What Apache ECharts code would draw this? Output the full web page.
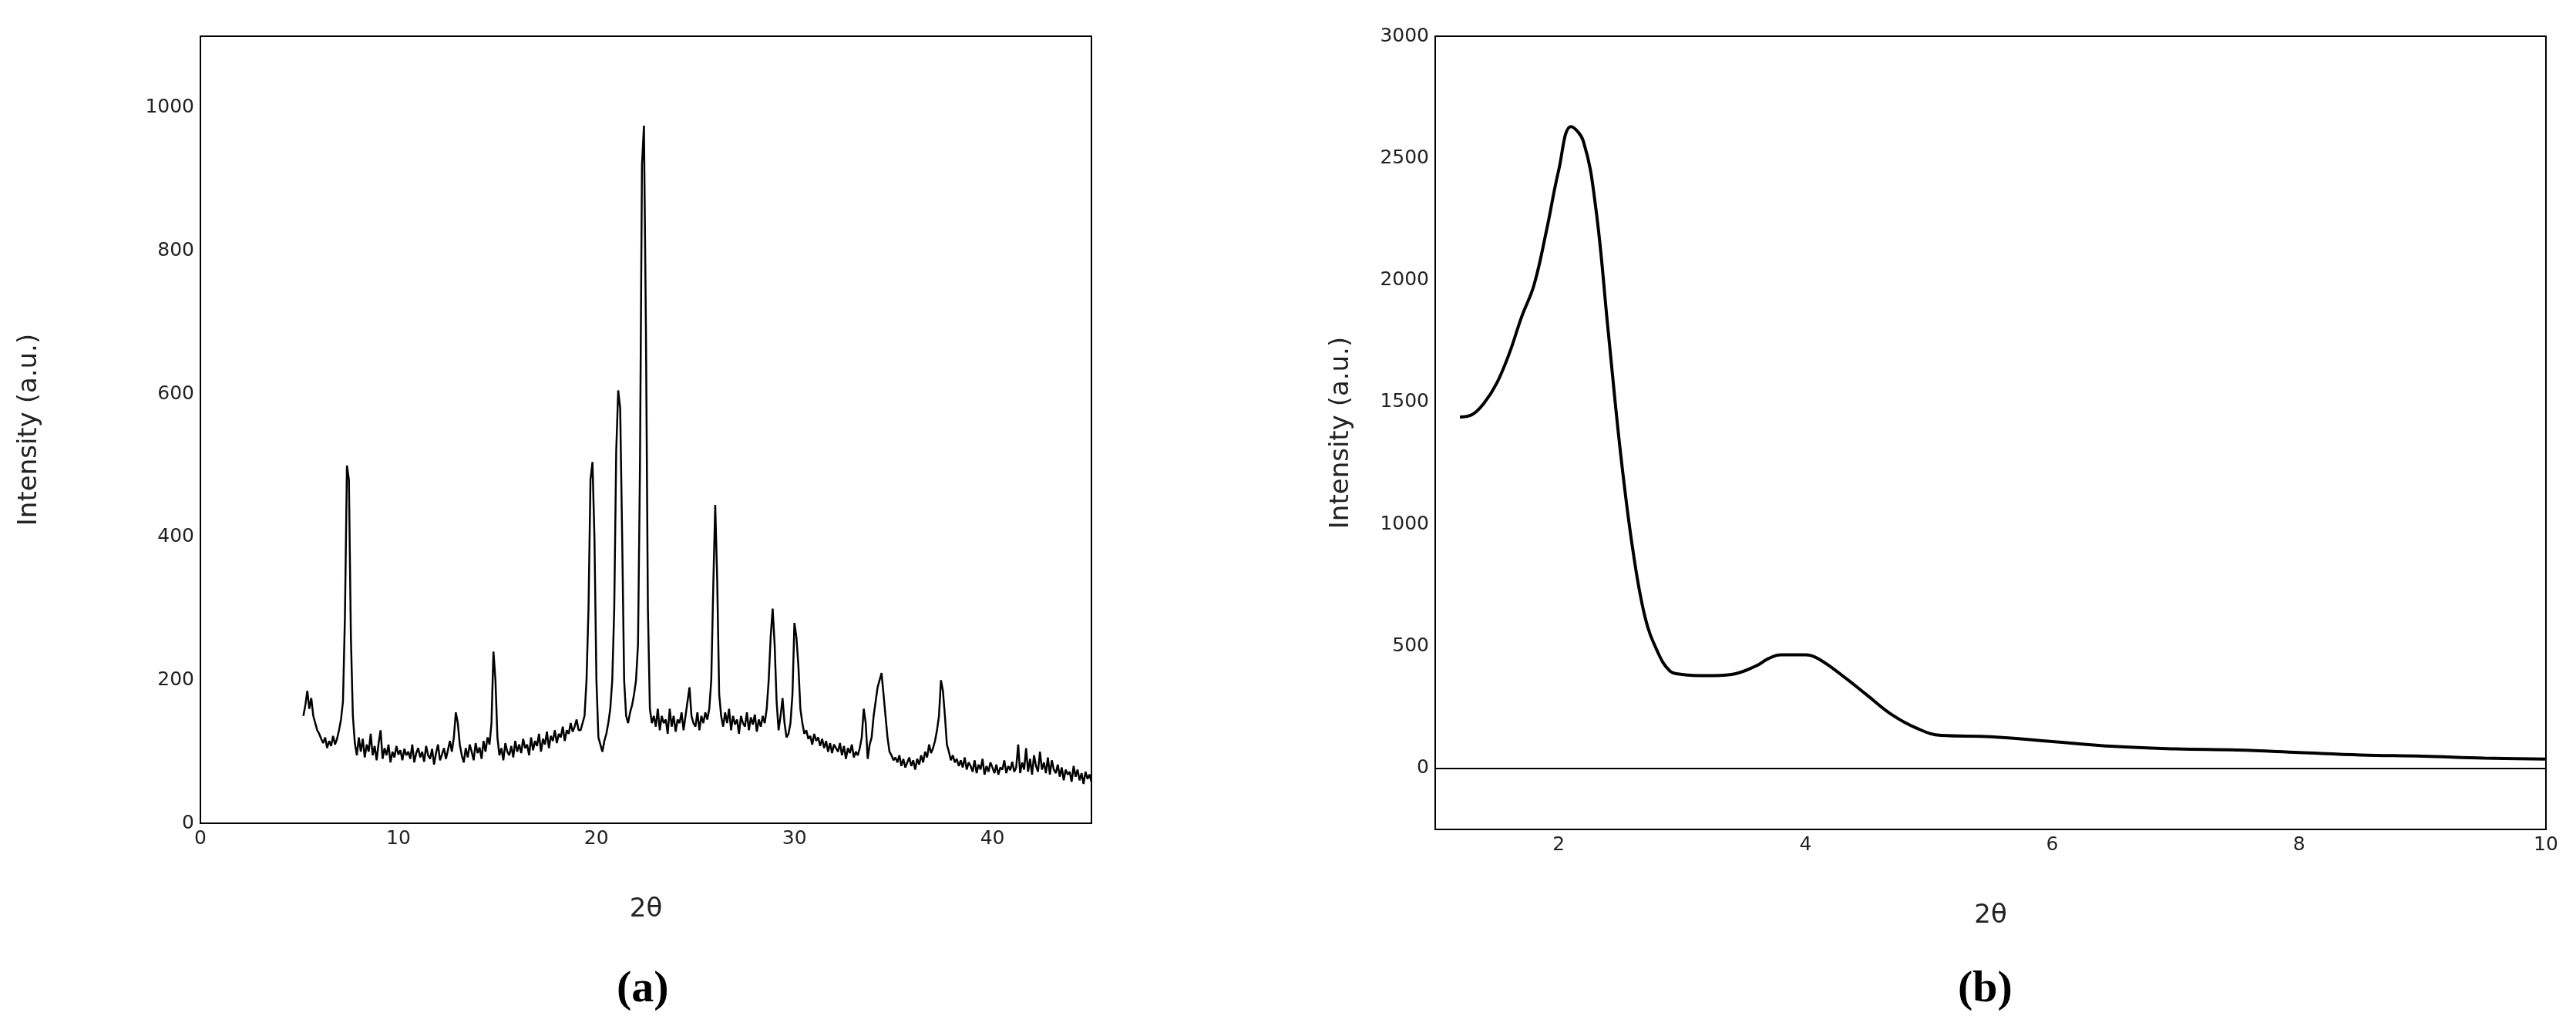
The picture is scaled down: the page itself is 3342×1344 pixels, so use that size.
<!DOCTYPE html>
<html>
<head>
<meta charset="utf-8">
<script src="https://cdn.jsdelivr.net/npm/echarts@6/dist/echarts.min.js"></script>
<style>
  html, body { margin: 0; padding: 0; background: #fff; }
  #chart { width: 3342px; height: 1344px; }
</style>
</head>
<body>
<div id="chart"></div>
<script>
// (a) XRD pattern, sampled every 0.1 deg from 5.2
var aStart = 5.2, aStep = 0.1;
var aIntensity = [
  150,165,185,160,175,150,140,130,125,118,
  112,120,105,115,108,122,110,118,130,145,
  170,290,500,480,260,150,112,95,120,100,
  118,92,110,100,125,95,108,88,112,130,
  90,105,95,110,85,100,92,108,96,102,
  88,104,95,100,90,110,85,98,105,92,
  100,86,108,95,90,104,82,98,110,88,
  96,105,90,102,115,100,120,155,140,110,
  95,85,105,92,110,100,88,112,98,106,
  90,115,100,120,110,140,240,200,120,95,
  105,88,112,100,95,108,92,115,100,110,
  98,118,105,110,95,120,102,115,108,125,
  100,118,110,128,105,122,115,130,112,125,
  120,135,115,130,125,140,128,135,145,130,
  130,140,150,200,300,480,505,400,200,120,
  110,100,115,125,140,160,200,300,520,605,
  580,400,200,150,140,155,165,180,200,250,
  500,920,975,690,300,160,140,150,135,160,
  130,150,140,145,125,160,135,150,128,145,
  140,155,130,150,170,190,150,140,135,155,
  130,150,140,155,145,160,200,330,445,340,
  180,150,135,155,140,160,130,150,138,145,
  125,150,140,135,155,130,148,138,152,128,
  145,135,150,140,160,200,260,300,250,170,
  130,150,175,140,120,125,140,180,280,260,
  220,160,140,125,130,118,122,110,125,115,
  120,108,118,105,115,100,112,98,110,105,
  100,112,95,108,90,105,98,110,92,100,
  95,105,120,160,140,90,110,120,150,170,
  190,200,210,180,150,120,100,95,88,92,
  85,95,80,90,78,85,92,80,88,75,
  90,82,95,85,100,92,110,98,105,115,
  130,150,200,185,150,110,100,88,95,85,
  90,80,88,78,92,75,85,80,72,88,
  70,82,75,90,68,80,72,85,78,70,
  82,68,78,75,88,70,80,74,86,72,
  78,110,70,85,75,105,72,90,68,95,
  80,72,100,75,85,70,92,68,88,75,
  70,82,65,78,60,75,68,72,58,80,
  65,75,60,70,55,72,62,68,58
];
var aPeakLabels = [
  ['100', 7.5, 535], ['110', 13.0, 210], ['200', 15.0, 270], ['210', 19.3, 530],
  ['002', 20.9, 630], ['211', 22.5, 1010], ['112', 24.4, 205], ['220', 26.3, 475],
  ['311', 28.3, 300], ['400', 30.7, 300], ['220', 33.3, 150], ['410', 34.7, 250],
  ['213', 38.0, 225]
];

// (b) low-angle pattern
var bTheta = [1.2,1.3,1.4,1.5,1.6,1.7,1.8,1.9,2.0,2.1,2.2,2.3,2.4,2.5,2.6,2.7,2.8,2.9,3.0,3.2,3.4,3.6,3.7,3.8,4.0,4.1,4.3,4.5,4.7,4.9,5.1,5.5,6.0,6.5,7.0,7.5,8.0,8.5,9.0,9.5,10.0];
var bIntensity = [1440,1450,1500,1580,1700,1850,1980,2200,2450,2630,2570,2300,1800,1300,900,620,480,400,385,380,385,420,450,465,465,450,380,300,220,165,135,130,110,90,80,75,65,55,50,42,38];
var bPeakLabels = [['100', 2.1, 2870], ['110', 3.65, 700], ['200', 4.45, 680], ['210', 6.0, 390]];

var aData = aIntensity.map(function (v, i) { return [+(aStart + i * aStep).toFixed(2), v]; });
var bData = bTheta.map(function (t, i) { return [t, bIntensity[i]]; });

var axisText = { color: '#222', fontFamily: 'DejaVu Sans', fontSize: 25 };
var nameText = { color: '#222', fontFamily: 'DejaVu Sans', fontSize: 34 };
var blackLine = { lineStyle: { color: '#000', width: 2 } };

var chart = echarts.init(document.getElementById('chart'));
chart.setOption({
  animation: false,
  grid: [
    { left: 260, top: 47, width: 1156, height: 1021, show: true, borderColor: '#000', borderWidth: 2 },
    { left: 1862, top: 47, width: 1441, height: 1029, show: true, borderColor: '#000', borderWidth: 2 }
  ],
  xAxis: [
    { gridIndex: 0, type: 'value', min: 0, max: 45, interval: 10, name: '2θ', nameLocation: 'middle', nameGap: 95,
      nameTextStyle: nameText, axisLabel: Object.assign({ showMaxLabel: false }, axisText),
      axisLine: blackLine, axisTick: { show: false }, splitLine: { show: false } },
    { gridIndex: 1, type: 'value', min: 1, max: 10, interval: 1, name: '2θ', nameLocation: 'middle', nameGap: 95,
      nameTextStyle: nameText,
      axisLabel: Object.assign({ formatter: function (v) { return v % 2 === 0 ? v : ''; } }, axisText),
      axisLine: blackLine, axisTick: { show: false }, splitLine: { show: false } }
  ],
  yAxis: [
    { gridIndex: 0, type: 'value', min: 0, max: 1100, interval: 100, name: 'Intensity (a.u.)', nameLocation: 'middle', nameGap: 205,
      nameTextStyle: nameText,
      axisLabel: Object.assign({ formatter: function (v) { return v % 200 === 0 && v <= 1000 ? v : ''; } }, axisText),
      axisLine: blackLine, axisTick: { show: false }, splitLine: { show: false } },
    { gridIndex: 1, type: 'value', min: -250, max: 3000, interval: 250, name: 'Intensity (a.u.)', nameLocation: 'middle', nameGap: 105,
      nameTextStyle: nameText,
      axisLabel: Object.assign({ formatter: function (v) { return v % 500 === 0 && v >= 0 ? v : ''; } }, axisText),
      axisLine: blackLine, axisTick: { show: false }, splitLine: { show: false } }
  ],
  series: [
    { type: 'line', xAxisIndex: 0, yAxisIndex: 0, data: aData, showSymbol: false, lineStyle: { color: '#000', width: 2.5 } },
    { type: 'line', xAxisIndex: 1, yAxisIndex: 1, data: bData, showSymbol: false, smooth: 0.4, lineStyle: { color: '#000', width: 4 } },
    { type: 'scatter', xAxisIndex: 0, yAxisIndex: 0, symbolSize: 1, silent: true, itemStyle: { opacity: 0 },
      data: aPeakLabels.map(function (p) { return { value: [p[1], p[2]], name: p[0] }; }),
      label: { show: true, position: 'inside', formatter: '{b}', color: '#222', fontFamily: 'DejaVu Sans', fontSize: 24 } },
    { type: 'scatter', xAxisIndex: 1, yAxisIndex: 1, symbolSize: 1, silent: true, itemStyle: { opacity: 0 },
      data: bPeakLabels.map(function (p) { return { value: [p[1], p[2]], name: p[0] }; }),
      label: { show: true, position: 'inside', rotate: 90, formatter: '{b}', color: '#222', fontFamily: 'Liberation Serif', fontSize: 40 } }
  ],
  graphic: [
    { type: 'text', left: 800, top: 1255, style: { text: '(a)', font: 'bold 58px "Liberation Serif"', fill: '#000' } },
    { type: 'text', left: 2540, top: 1255, style: { text: '(b)', font: 'bold 58px "Liberation Serif"', fill: '#000' } }
  ]
});
</script>
</body>
</html>
